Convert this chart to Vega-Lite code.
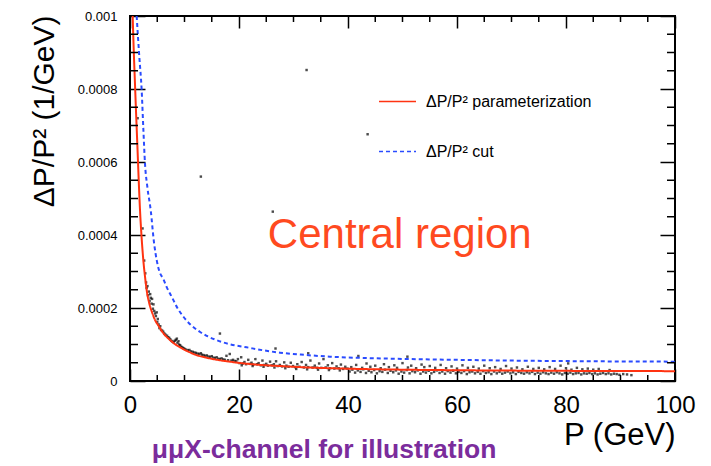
{
  "$schema": "https://vega.github.io/schema/vega-lite/v6.json",
  "width": 545,
  "height": 365,
  "autosize": "none",
  "padding": {"left": 130, "top": 16, "right": 36, "bottom": 85},
  "background": "white",
  "config": {
    "font": "Liberation Sans",
    "view": {"stroke": "black", "strokeWidth": 2},
    "axis": {"domain": false, "grid": false, "labelColor": "black", "titleColor": "black", "labelFlush": false, "labelOverlap": false, "labelBound": false, "titleFontWeight": "normal"}
  },
  "datasets": {
    "xticks": [{"P":5},{"P":10},{"P":15},{"P":25},{"P":30},{"P":35},{"P":45},{"P":50},{"P":55},{"P":65},{"P":70},{"P":75},{"P":85},{"P":90},{"P":95}],
    "yticks": [{"v":0.00005},{"v":0.0001},{"v":0.00015},{"v":0.00025},{"v":0.0003},{"v":0.00035},{"v":0.00045},{"v":0.0005},{"v":0.00055},{"v":0.00065},{"v":0.0007},{"v":0.00075},{"v":0.00085},{"v":0.0009},{"v":0.00095}],
    "dots": [
      {"P":1.4,"v":7.2e-4},{"P":2.3,"v":4.18e-4},{"P":13.0,"v":5.6e-4},{"P":26.2,"v":4.64e-4},{"P":32.4,"v":8.52e-4},{"P":43.6,"v":6.76e-4},
      {"P":16.5,"v":1.3e-4},{"P":26.7,"v":8.9e-5},{"P":32.7,"v":7.6e-5},{"P":41.9,"v":6.85e-5},{"P":50.9,"v":6.67e-5},{"P":80.4,"v":4.82e-5},
      {"P":2.6,"v":3.3e-4},{"P":2.8,"v":2.95e-4},{"P":2.95,"v":2.7e-4},{"P":3.05,"v":2.55e-4},{"P":3.2,"v":2.6e-4},{"P":3.3,"v":2.35e-4},{"P":3.45,"v":2.45e-4},{"P":3.6,"v":2.2e-4},{"P":3.7,"v":2.38e-4},{"P":3.8,"v":2.28e-4},{"P":3.95,"v":2.12e-4},{"P":4.05,"v":2.25e-4},{"P":4.2,"v":1.98e-4},{"P":4.3,"v":2.1e-4},{"P":4.45,"v":1.92e-4},{"P":4.6,"v":1.85e-4},{"P":4.75,"v":1.78e-4},{"P":4.9,"v":1.88e-4},{"P":5.0,"v":1.62e-4},{"P":5.1,"v":1.7e-4},{"P":5.25,"v":1.55e-4},{"P":5.4,"v":1.45e-4},{"P":5.55,"v":1.5e-4},{"P":5.7,"v":1.4e-4},{"P":5.9,"v":1.38e-4},{"P":6.1,"v":1.35e-4},{"P":6.3,"v":1.3e-4},{"P":6.5,"v":1.27e-4},{"P":6.8,"v":1.24e-4},{"P":7.0,"v":1.2e-4},
      {"P":7.2,"v":1.18e-4},{"P":7.4,"v":1.14e-4},{"P":7.6,"v":1.1e-4},{"P":7.8,"v":1.08e-4},{"P":8.0,"v":1.06e-4},{"P":8.2,"v":1.1e-4},{"P":8.4,"v":1.13e-4},{"P":8.6,"v":1.16e-4},{"P":8.7,"v":1.05e-4},{"P":8.9,"v":1.09e-4},{"P":9.0,"v":1.0e-4},{"P":9.2,"v":9.8e-5},{"P":9.4,"v":9.4e-5},{"P":9.6,"v":9.2e-5},{"P":9.8,"v":9.0e-5},{"P":10.0,"v":8.8e-5},{"P":10.3,"v":8.6e-5},{"P":10.6,"v":8.4e-5},{"P":10.9,"v":8.5e-5},{"P":11.2,"v":8.1e-5},{"P":11.5,"v":8.0e-5},{"P":11.8,"v":7.8e-5},{"P":12.1,"v":7.7e-5},{"P":12.4,"v":7.5e-5},
      {"P":12.7,"v":7.4e-5},{"P":13.0,"v":7.6e-5},{"P":13.2,"v":7.2e-5},{"P":13.5,"v":7.1e-5},{"P":13.8,"v":6.9e-5},{"P":14.1,"v":7.0e-5},{"P":14.4,"v":6.7e-5},{"P":14.7,"v":6.6e-5},{"P":15.0,"v":6.8e-5},{"P":15.3,"v":6.4e-5},{"P":15.6,"v":6.3e-5},{"P":15.9,"v":6.5e-5},{"P":16.2,"v":6.1e-5},{"P":16.5,"v":6.0e-5},{"P":16.8,"v":6.2e-5},{"P":17.1,"v":5.9e-5},{"P":17.4,"v":5.8e-5},{"P":17.7,"v":6.9e-5},{"P":18.0,"v":5.7e-5},{"P":18.3,"v":7.4e-5},{"P":18.6,"v":5.6e-5},{"P":18.9,"v":5.8e-5},{"P":19.2,"v":5.5e-5},{"P":19.5,"v":5.4e-5},{"P":19.8,"v":6.0e-5},
      {"P":20.1,"v":4.9e-5},{"P":20.4,"v":6.5e-5},{"P":20.7,"v":4.8e-5},{"P":21.0,"v":5.2e-5},{"P":21.3,"v":4.6e-5},{"P":21.7,"v":5.8e-5},{"P":22.0,"v":4.7e-5},{"P":22.3,"v":5.0e-5},{"P":22.6,"v":4.5e-5},{"P":23.0,"v":6.0e-5},{"P":23.3,"v":4.6e-5},{"P":23.6,"v":4.9e-5},{"P":24.0,"v":4.3e-5},{"P":24.3,"v":5.6e-5},{"P":24.6,"v":4.4e-5},{"P":25.0,"v":4.7e-5},{"P":25.3,"v":4.2e-5},{"P":25.7,"v":5.3e-5},{"P":26.0,"v":4.3e-5},{"P":26.4,"v":4.6e-5},{"P":26.8,"v":5.4e-5},{"P":27.1,"v":4.1e-5},{"P":27.5,"v":4.4e-5},{"P":27.9,"v":4.0e-5},{"P":28.3,"v":5.1e-5},{"P":28.7,"v":4.2e-5},{"P":29.1,"v":3.9e-5},{"P":29.5,"v":5.0e-5},{"P":29.9,"v":4.1e-5},{"P":30.3,"v":3.8e-5},{"P":30.7,"v":4.6e-5},{"P":31.1,"v":3.9e-5},{"P":31.5,"v":5.2e-5},{"P":31.9,"v":3.7e-5},{"P":32.3,"v":4.4e-5},{"P":32.7,"v":3.8e-5},{"P":33.1,"v":5.6e-5},{"P":33.5,"v":3.7e-5},{"P":33.9,"v":4.2e-5},{"P":34.3,"v":3.6e-5},{"P":34.7,"v":4.8e-5},{"P":35.1,"v":3.6e-5},{"P":35.5,"v":6.0e-5},{"P":35.9,"v":3.7e-5},{"P":36.3,"v":4.3e-5},{"P":36.7,"v":3.5e-5},{"P":37.1,"v":4.9e-5},{"P":37.5,"v":3.4e-5},{"P":37.9,"v":4.0e-5},{"P":38.3,"v":3.5e-5},{"P":38.7,"v":4.5e-5},{"P":39.1,"v":3.3e-5},{"P":39.5,"v":3.9e-5},{"P":39.9,"v":3.4e-5},
      {"P":20.5,"v":4.3e-5},{"P":22.5,"v":4.1e-5},{"P":24.5,"v":3.9e-5},{"P":26.5,"v":3.7e-5},{"P":28.5,"v":3.5e-5},{"P":30.5,"v":3.3e-5},{"P":32.5,"v":3.2e-5},{"P":34.5,"v":3.1e-5},{"P":36.5,"v":3.0e-5},{"P":38.5,"v":2.9e-5},
      {"P":40.3,"v":2.6e-5},{"P":40.8,"v":3.1e-5},{"P":41.3,"v":2.3e-5},{"P":41.8,"v":2.9e-5},{"P":42.3,"v":2.5e-5},{"P":42.8,"v":3.2e-5},{"P":43.3,"v":2.2e-5},{"P":43.8,"v":2.8e-5},{"P":44.3,"v":2.4e-5},{"P":44.8,"v":3.0e-5},{"P":45.3,"v":2.1e-5},{"P":45.8,"v":2.7e-5},{"P":46.3,"v":2.5e-5},{"P":46.8,"v":3.1e-5},{"P":47.3,"v":2.2e-5},{"P":47.8,"v":2.8e-5},{"P":48.3,"v":2.4e-5},{"P":48.8,"v":2.9e-5},{"P":49.3,"v":2.0e-5},{"P":49.8,"v":2.6e-5},{"P":50.3,"v":2.3e-5},{"P":50.8,"v":3.0e-5},{"P":51.3,"v":2.1e-5},{"P":51.8,"v":2.7e-5},{"P":52.3,"v":2.4e-5},{"P":52.8,"v":2.9e-5},{"P":53.3,"v":2.0e-5},{"P":53.8,"v":2.6e-5},{"P":54.3,"v":2.3e-5},{"P":54.8,"v":2.8e-5},{"P":55.3,"v":2.1e-5},{"P":55.8,"v":2.5e-5},{"P":56.3,"v":2.9e-5},{"P":56.8,"v":2.2e-5},{"P":57.3,"v":2.6e-5},{"P":57.8,"v":2.0e-5},{"P":58.3,"v":2.7e-5},{"P":58.8,"v":2.3e-5},{"P":59.3,"v":2.8e-5},{"P":59.8,"v":2.1e-5},{"P":60.3,"v":2.5e-5},{"P":60.8,"v":2.2e-5},{"P":61.3,"v":2.7e-5},{"P":61.8,"v":1.9e-5},{"P":62.3,"v":2.4e-5},{"P":62.8,"v":2.6e-5},{"P":63.3,"v":2.1e-5},{"P":63.8,"v":2.5e-5},{"P":64.3,"v":2.0e-5},{"P":64.8,"v":2.7e-5},{"P":65.3,"v":2.2e-5},{"P":65.8,"v":2.4e-5},{"P":66.3,"v":1.9e-5},{"P":66.8,"v":2.6e-5},{"P":67.3,"v":2.1e-5},{"P":67.8,"v":2.5e-5},{"P":68.3,"v":2.0e-5},{"P":68.8,"v":2.3e-5},{"P":69.3,"v":2.6e-5},{"P":69.8,"v":2.1e-5},{"P":70.3,"v":2.4e-5},{"P":70.8,"v":1.9e-5},{"P":71.3,"v":2.5e-5},{"P":71.8,"v":2.2e-5},{"P":72.3,"v":2.0e-5},{"P":72.8,"v":2.4e-5},{"P":73.3,"v":2.1e-5},{"P":73.8,"v":2.5e-5},{"P":74.3,"v":1.9e-5},{"P":74.8,"v":2.3e-5},{"P":75.3,"v":2.0e-5},{"P":75.8,"v":2.4e-5},{"P":76.3,"v":2.1e-5},{"P":76.8,"v":1.9e-5},{"P":77.3,"v":2.3e-5},{"P":77.8,"v":2.0e-5},{"P":78.3,"v":2.4e-5},{"P":78.8,"v":2.1e-5},{"P":79.3,"v":1.8e-5},{"P":79.8,"v":2.2e-5},{"P":80.3,"v":2.0e-5},{"P":80.8,"v":2.3e-5},{"P":81.3,"v":1.9e-5},{"P":81.8,"v":2.1e-5},{"P":82.3,"v":2.2e-5},{"P":82.8,"v":1.8e-5},{"P":83.3,"v":2.1e-5},{"P":83.8,"v":2.0e-5},{"P":84.3,"v":2.2e-5},{"P":84.8,"v":1.9e-5},{"P":85.3,"v":2.1e-5},{"P":85.8,"v":1.8e-5},{"P":86.3,"v":2.0e-5},{"P":86.8,"v":2.2e-5},{"P":87.3,"v":1.9e-5},{"P":87.8,"v":2.1e-5},{"P":88.3,"v":1.8e-5},{"P":88.8,"v":2.0e-5},{"P":89.3,"v":1.9e-5},{"P":89.8,"v":1.7e-5},{"P":90.5,"v":1.9e-5},{"P":91.2,"v":1.8e-5},{"P":92.0,"v":1.6e-5},
      {"P":40.6,"v":3.8e-5},{"P":41.5,"v":4.4e-5},{"P":42.6,"v":3.6e-5},{"P":43.4,"v":4.8e-5},{"P":44.1,"v":3.9e-5},{"P":45.0,"v":4.2e-5},{"P":46.0,"v":3.5e-5},{"P":46.6,"v":4.6e-5},{"P":47.5,"v":3.8e-5},{"P":48.5,"v":4.3e-5},{"P":49.0,"v":3.6e-5},{"P":50.0,"v":4.9e-5},{"P":51.0,"v":3.7e-5},{"P":51.6,"v":4.2e-5},{"P":52.5,"v":3.5e-5},{"P":53.5,"v":4.5e-5},{"P":54.0,"v":3.8e-5},{"P":55.0,"v":4.1e-5},{"P":56.0,"v":3.6e-5},{"P":57.0,"v":4.4e-5},{"P":58.0,"v":3.5e-5},{"P":59.0,"v":4.0e-5},{"P":60.0,"v":3.4e-5},{"P":61.0,"v":4.3e-5},{"P":62.0,"v":3.6e-5},{"P":63.0,"v":3.9e-5},{"P":64.0,"v":3.4e-5},{"P":65.0,"v":4.2e-5},{"P":66.0,"v":3.5e-5},{"P":67.0,"v":3.8e-5},{"P":68.0,"v":3.3e-5},{"P":69.0,"v":4.1e-5},{"P":70.0,"v":3.4e-5},{"P":71.0,"v":3.7e-5},{"P":72.0,"v":3.2e-5},{"P":73.0,"v":3.9e-5},{"P":74.0,"v":3.3e-5},{"P":75.0,"v":3.6e-5},{"P":76.0,"v":3.2e-5},{"P":77.0,"v":3.8e-5},{"P":78.0,"v":3.3e-5},{"P":79.0,"v":4.2e-5},{"P":80.0,"v":3.5e-5},{"P":81.0,"v":3.1e-5},{"P":82.0,"v":3.6e-5},{"P":83.0,"v":3.2e-5},{"P":84.0,"v":3.4e-5},{"P":85.0,"v":3.1e-5},{"P":86.0,"v":3.3e-5},{"P":88.0,"v":3.0e-5}
    ],
    "curves": [
      {"series":"ΔP/P² parameterization","P":0.49,"v":1.0e-3},{"series":"ΔP/P² parameterization","P":0.7,"v":9.0e-4},{"series":"ΔP/P² parameterization","P":0.9,"v":8.2e-4},{"series":"ΔP/P² parameterization","P":1.1,"v":7.4e-4},{"series":"ΔP/P² parameterization","P":1.34,"v":6.5e-4},{"series":"ΔP/P² parameterization","P":1.6,"v":5.5e-4},{"series":"ΔP/P² parameterization","P":1.83,"v":4.7e-4},{"series":"ΔP/P² parameterization","P":2.1,"v":4.0e-4},{"series":"ΔP/P² parameterization","P":2.45,"v":3.3e-4},{"series":"ΔP/P² parameterization","P":2.8,"v":2.8e-4},{"series":"ΔP/P² parameterization","P":3.1,"v":2.45e-4},{"series":"ΔP/P² parameterization","P":3.5,"v":2.15e-4},{"series":"ΔP/P² parameterization","P":4.0,"v":1.9e-4},{"series":"ΔP/P² parameterization","P":4.6,"v":1.67e-4},{"series":"ΔP/P² parameterization","P":5.3,"v":1.5e-4},{"series":"ΔP/P² parameterization","P":6.1,"v":1.31e-4},{"series":"ΔP/P² parameterization","P":7.0,"v":1.17e-4},{"series":"ΔP/P² parameterization","P":8.0,"v":1.04e-4},{"series":"ΔP/P² parameterization","P":9.2,"v":9.2e-5},{"series":"ΔP/P² parameterization","P":10.5,"v":8.2e-5},{"series":"ΔP/P² parameterization","P":12.2,"v":7.1e-5},{"series":"ΔP/P² parameterization","P":14,"v":6.4e-5},{"series":"ΔP/P² parameterization","P":16,"v":5.8e-5},{"series":"ΔP/P² parameterization","P":18.3,"v":5.3e-5},{"series":"ΔP/P² parameterization","P":21,"v":4.8e-5},{"series":"ΔP/P² parameterization","P":24,"v":4.4e-5},{"series":"ΔP/P² parameterization","P":27.5,"v":4.1e-5},{"series":"ΔP/P² parameterization","P":32,"v":3.75e-5},{"series":"ΔP/P² parameterization","P":36.7,"v":3.5e-5},{"series":"ΔP/P² parameterization","P":42,"v":3.3e-5},{"series":"ΔP/P² parameterization","P":50,"v":3.1e-5},{"series":"ΔP/P² parameterization","P":60,"v":2.95e-5},{"series":"ΔP/P² parameterization","P":70,"v":2.85e-5},{"series":"ΔP/P² parameterization","P":80,"v":2.78e-5},{"series":"ΔP/P² parameterization","P":90,"v":2.73e-5},{"series":"ΔP/P² parameterization","P":100,"v":2.7e-5},
      {"series":"ΔP/P² cut","P":1.22,"v":1.0e-3},{"series":"ΔP/P² cut","P":1.7,"v":8.9e-4},{"series":"ΔP/P² cut","P":2.14,"v":7.97e-4},{"series":"ΔP/P² cut","P":2.45,"v":6.9e-4},{"series":"ΔP/P² cut","P":2.75,"v":5.96e-4},{"series":"ΔP/P² cut","P":3.2,"v":5.3e-4},{"series":"ΔP/P² cut","P":3.8,"v":4.68e-4},{"series":"ΔP/P² cut","P":4.4,"v":3.8e-4},{"series":"ΔP/P² cut","P":4.9,"v":3.31e-4},{"series":"ΔP/P² cut","P":5.4,"v":3.0e-4},{"series":"ΔP/P² cut","P":6.1,"v":2.8e-4},{"series":"ΔP/P² cut","P":6.8,"v":2.55e-4},{"series":"ΔP/P² cut","P":7.65,"v":2.31e-4},{"series":"ΔP/P² cut","P":8.7,"v":2.0e-4},{"series":"ΔP/P² cut","P":9.8,"v":1.76e-4},{"series":"ΔP/P² cut","P":11.2,"v":1.53e-4},{"series":"ΔP/P² cut","P":12.8,"v":1.35e-4},{"series":"ΔP/P² cut","P":14.3,"v":1.22e-4},{"series":"ΔP/P² cut","P":15.9,"v":1.12e-4},{"series":"ΔP/P² cut","P":18.5,"v":1.0e-4},{"series":"ΔP/P² cut","P":21.4,"v":9.23e-5},{"series":"ΔP/P² cut","P":24.5,"v":8.4e-5},{"series":"ΔP/P² cut","P":27.5,"v":7.76e-5},{"series":"ΔP/P² cut","P":32,"v":7.15e-5},{"series":"ΔP/P² cut","P":36.7,"v":6.67e-5},{"series":"ΔP/P² cut","P":43,"v":6.3e-5},{"series":"ΔP/P² cut","P":50,"v":6.05e-5},{"series":"ΔP/P² cut","P":60,"v":5.8e-5},{"series":"ΔP/P² cut","P":71.6,"v":5.57e-5},{"series":"ΔP/P² cut","P":85,"v":5.4e-5},{"series":"ΔP/P² cut","P":100,"v":5.3e-5}
    ],
    "notes": [
      {"kind":"region","text":"Central region","P":49.5,"v":3.65e-4},
      {"kind":"note","text":"μμX-channel for illustration","P":4.0,"v":-2.11e-4}
    ]
  },
  "resolve": {"axis": {"x": "independent", "y": "independent"}},
  "layer": [
    {
      "data": {"name": "dots"},
      "mark": {"type": "point", "shape": "square", "filled": true, "size": 6, "color": "black"},
      "encoding": {
        "x": {"field": "P", "type": "quantitative", "scale": {"domain": [0, 100], "nice": false},
          "axis": {"orient": "bottom", "values": [0, 20, 40, 60, 80, 100],
            "tickSize": -12, "tickColor": "black", "tickWidth": 1.5,
            "labelFontSize": 24, "labelPadding": 24,
            "title": "P (GeV)", "titleFontSize": 31, "titleAnchor": "end", "titleAlign": "right", "titleBaseline": "alphabetic", "titleX": 545, "titleY": 63}},
        "y": {"field": "v", "type": "quantitative", "scale": {"domain": [0, 0.001], "nice": false},
          "axis": {"orient": "left", "values": [0, 0.0002, 0.0004, 0.0006, 0.0008, 0.001],
            "format": ".4~f",
            "tickSize": -15, "tickColor": "black", "tickWidth": 1.5,
            "labelFontSize": 13, "labelPadding": 28,
            "title": "ΔP/P² (1/GeV)", "titleFontSize": 30, "titleAngle": -90, "titleAlign": "right", "titleBaseline": "alphabetic", "titleX": -77, "titleY": -1}}
      }
    },
    {
      "data": {"name": "curves"},
      "mark": {"type": "line", "strokeWidth": 2, "interpolate": "monotone"},
      "encoding": {
        "x": {"field": "P", "type": "quantitative", "scale": {"domain": [0, 100], "nice": false},
          "axis": {"orient": "top", "values": [0, 20, 40, 60, 80, 100], "labels": false, "title": null,
            "tickSize": -12, "tickColor": "black", "tickWidth": 1.5}},
        "y": {"field": "v", "type": "quantitative", "scale": {"domain": [0, 0.001], "nice": false},
          "axis": {"orient": "right", "values": [0, 0.0002, 0.0004, 0.0006, 0.0008, 0.001], "labels": false, "title": null,
            "tickSize": -15, "tickColor": "black", "tickWidth": 1.5}},
        "color": {"field": "series", "type": "nominal",
          "scale": {"domain": ["ΔP/P² parameterization", "ΔP/P² cut"], "range": ["#ff3311", "#2a4bff"]},
          "legend": {"orient": "none", "legendX": 248, "legendY": 66, "title": null, "symbolType": "stroke", "symbolSize": 1369, "symbolStrokeWidth": 1.5, "labelFontSize": 16, "labelOffset": 9, "labelLimit": 400, "rowPadding": 22, "padding": 0, "labelColor": "black",
            "encode": {"symbols": {"update": {"strokeDash": {"signal": "datum.value === 'ΔP/P² cut' ? [4, 3] : [1, 0]"}}}}}},
        "strokeDash": {"condition": {"test": "datum.series === 'ΔP/P² cut'", "value": [4, 3]}, "value": [1, 0]}
      }
    },
    {
      "data": {"name": "xticks"},
      "mark": {"type": "rule", "stroke": "black", "strokeWidth": 1.5},
      "encoding": {
        "x": {"field": "P", "type": "quantitative", "axis": null},
        "y": {"datum": 0, "type": "quantitative", "axis": null},
        "y2": {"datum": 1.64e-5}
      }
    },
    {
      "data": {"name": "xticks"},
      "mark": {"type": "rule", "stroke": "black", "strokeWidth": 1.5},
      "encoding": {
        "x": {"field": "P", "type": "quantitative", "axis": null},
        "y": {"datum": 0.001, "type": "quantitative", "axis": null},
        "y2": {"datum": 9.836e-4}
      }
    },
    {
      "data": {"name": "yticks"},
      "mark": {"type": "rule", "stroke": "black", "strokeWidth": 1.5},
      "encoding": {
        "y": {"field": "v", "type": "quantitative", "axis": null},
        "x": {"datum": 0, "type": "quantitative", "axis": null},
        "x2": {"datum": 1.47}
      }
    },
    {
      "data": {"name": "yticks"},
      "mark": {"type": "rule", "stroke": "black", "strokeWidth": 1.5},
      "encoding": {
        "y": {"field": "v", "type": "quantitative", "axis": null},
        "x": {"datum": 100, "type": "quantitative", "axis": null},
        "x2": {"datum": 98.53}
      }
    },
    {
      "data": {"name": "notes"},
      "transform": [{"filter": "datum.kind === 'region'"}],
      "mark": {"type": "text", "fontSize": 42, "color": "#ff4a1f", "align": "center", "baseline": "alphabetic"},
      "encoding": {
        "x": {"field": "P", "type": "quantitative", "axis": null},
        "y": {"field": "v", "type": "quantitative", "axis": null},
        "text": {"field": "text"}
      }
    },
    {
      "data": {"name": "notes"},
      "transform": [{"filter": "datum.kind === 'note'"}],
      "mark": {"type": "text", "fontSize": 26.5, "fontWeight": "bold", "color": "#7b2c9c", "align": "left", "baseline": "alphabetic"},
      "encoding": {
        "x": {"field": "P", "type": "quantitative", "axis": null},
        "y": {"field": "v", "type": "quantitative", "axis": null},
        "text": {"field": "text"}
      }
    }
  ]
}
